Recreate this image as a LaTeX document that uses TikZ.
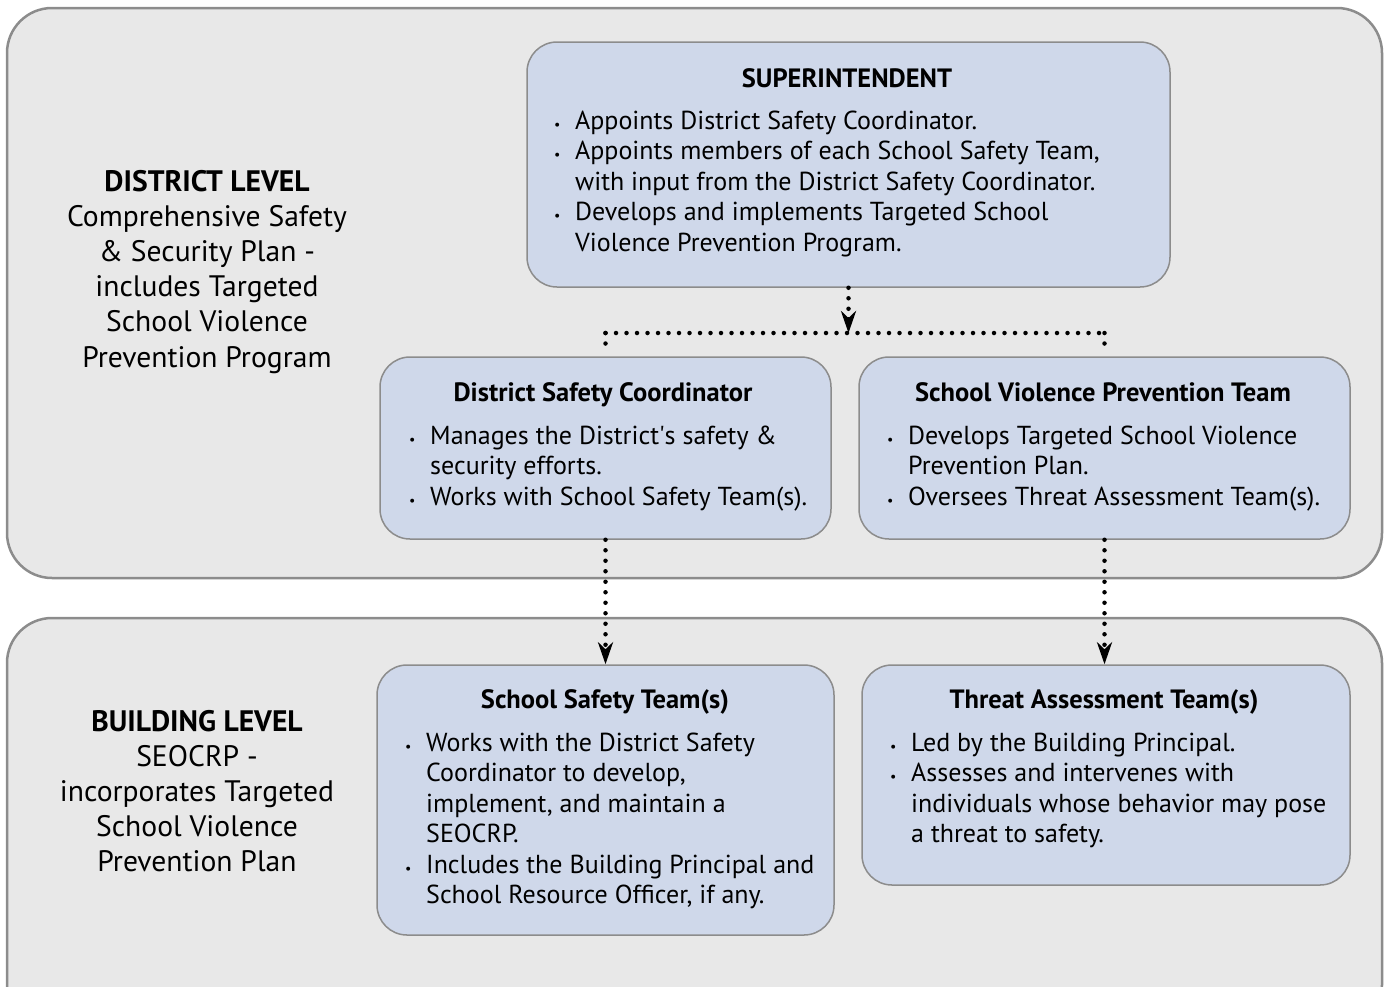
\documentclass[tikz,border=0pt]{standalone}
\usepackage{fontspec}
\setmainfont{PT Sans}
\usetikzlibrary{arrows.meta}
\definecolor{panelfill}{HTML}{E8E8E8}
\definecolor{boxfill}{HTML}{CFD8EA}
\definecolor{edgegray}{HTML}{8C8C8C}
\newcommand{\bul}{{\fontsize{14}{14}\selectfont\textbullet}}
\tikzset{
  panel/.style={draw=edgegray, line width=2.5pt, fill=panelfill, rounded corners=45pt, inner sep=0pt},
  box/.style={draw=edgegray, line width=1.5pt, fill=boxfill, rounded corners=30pt, inner sep=0pt},
  title/.style={font=\fontsize{26.5}{30}\selectfont\bfseries, anchor=base, inner sep=0pt},
  body/.style={font=\fontsize{26}{30.5}\selectfont, anchor=base west, inner sep=0pt},
  side/.style={font=\fontsize{29.6}{35.2}\selectfont, anchor=base, inner sep=0pt},
  link/.style={line width=4.5pt, line cap=round, dash pattern=on 0pt off 10.5pt},
  tip/.style={-{Stealth[length=22pt,width=15pt,inset=7pt]}}
}
\begin{document}
\begin{tikzpicture}[x=1pt,y=-1pt]
\useasboundingbox (0,0) rectangle (1385,986);
\clip (0,0) rectangle (1385,986);
% panels
\node[panel, minimum width=1375pt, minimum height=570pt] (district) at (694.5,293) {};
\node[panel, minimum width=1375pt, minimum height=412pt] (building) at (694.5,824) {};
% boxes
\node[box, minimum width=643pt, minimum height=245pt] (sup) at (848.5,164.5) {};
\node[box, minimum width=451pt, minimum height=182pt] (dsc) at (605.5,448) {};
\node[box, minimum width=491pt, minimum height=182pt] (svpt) at (1104.5,448) {};
\node[box, minimum width=457pt, minimum height=270pt] (sst) at (605.5,800) {};
\node[box, minimum width=488pt, minimum height=220pt] (tat) at (1106,775) {};
% connectors
\coordinate (junc) at (847,333);
\draw[link, tip] (sup.south) -- (sup.south |- junc);
\draw[link] (dsc.north |- junc) -- (svpt.north |- junc);
\draw[link] (dsc.north |- junc) -- ([yshift=6pt]dsc.north);
\draw[link] (svpt.north |- junc) -- ([yshift=6pt]svpt.north);
\draw[link, tip] (dsc.south) -- (sst.north);
\draw[link, tip] (svpt.south) -- (svpt.south |- tat.north);
% side texts
\node[side] (districttext) at (207,191) {\begin{tabular}[t]{@{}c@{}}\textbf{DISTRICT LEVEL}\\ Comprehensive Safety\\ \& Security Plan -\\ includes Targeted\\ School Violence\\ Prevention Program\end{tabular}};
\node[side] (buildingtext) at (197,731) {\begin{tabular}[t]{@{}c@{}}\textbf{BUILDING LEVEL}\\ SEOCRP -\\ incorporates Targeted\\ School Violence\\ Prevention Plan\end{tabular}};
% titles
\node[title] (suptitle) at (847,87) {SUPERINTENDENT};
\node[title] (dsctitle) at (603,401) {District Safety Coordinator};
\node[title] (svpttitle) at (1103,401) {School Violence Prevention Team};
\node[title] (ssttitle) at (605,708) {School Safety Team(s)};
\node[title] (tattitle) at (1104,708) {Threat Assessment Team(s)};
% bodies
\node[body] (supbody) at (554,129) {\begin{tabular}[t]{@{}p{21pt}@{}l@{}}
\bul & Appoints District Safety Coordinator.\\
\bul & Appoints members of each School Safety Team,\\
 & with input from the District Safety Coordinator.\\
\bul & Develops and implements Targeted School\\
 & Violence Prevention Program.\end{tabular}};
\node[body] (dscbody) at (409,444) {\begin{tabular}[t]{@{}p{21pt}@{}l@{}}
\bul & Manages the District\textquotesingle s safety \&\\
 & security efforts.\\
\bul & Works with School Safety Team(s).\end{tabular}};
\node[body] (svptbody) at (887,444) {\begin{tabular}[t]{@{}p{21pt}@{}l@{}}
\bul & Develops Targeted School Violence\\
 & Prevention Plan.\\
\bul & Oversees Threat Assessment Team(s).\end{tabular}};
\node[body] (sstbody) at (405,751) {\begin{tabular}[t]{@{}p{21pt}@{}l@{}}
\bul & Works with the District Safety\\
 & Coordinator to develop,\\
 & implement, and maintain a\\
 & SEOCRP.\\
\bul & Includes the Building Principal and\\
 & School Resource Officer, if any.\end{tabular}};
\node[body] (tatbody) at (890,751) {\begin{tabular}[t]{@{}p{21pt}@{}l@{}}
\bul & Led by the Building Principal.\\
\bul & Assesses and intervenes with\\
 & individuals whose behavior may pose\\
 & a threat to safety.\end{tabular}};
\end{tikzpicture}
\end{document}
